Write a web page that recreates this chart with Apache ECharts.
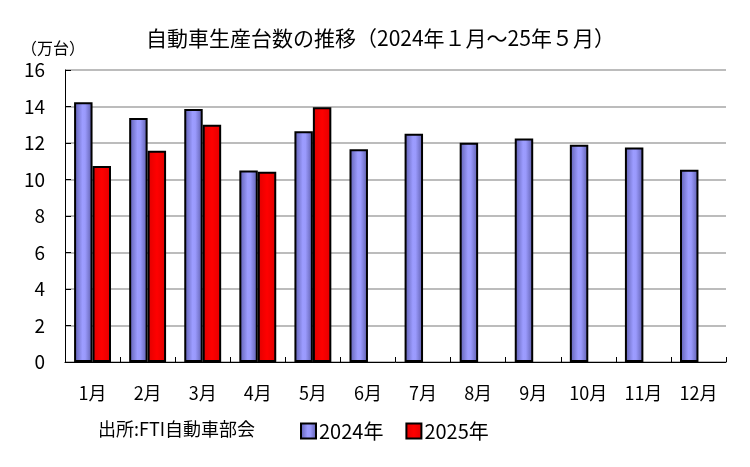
<!DOCTYPE html>
<html><head><meta charset="utf-8">
<script src="https://cdn.jsdelivr.net/npm/echarts@6/dist/echarts.min.js"></script>
<style>html,body{margin:0;padding:0;background:#fff}#c{width:750px;height:467px}</style>
</head><body><div id="c"></div>
<script>
const categories = ['1月','2月','3月','4月','5月','6月','7月','8月','9月','10月','11月','12月'];
const values2024 = [14.23, 13.37, 13.86, 10.49, 12.64, 11.66, 12.51, 12.02, 12.24, 11.91, 11.75, 10.53];
const values2025 = [10.74, 11.58, 13.00, 10.43, 13.96, null, null, null, null, null, null, null];
const seriesNames = ['2024年', '2025年'];
const yTicks = [0, 16, 2];
const titleText = '自動車生産台数の推移（2024年１月～25年５月）';
const unitText = '（万台）';
const sourceText = '出所:FTI自動車部会';

const FONT = '"Noto Sans CJK JP", "Noto Sans", sans-serif';
const chart = echarts.init(document.getElementById('c'), null, {renderer: 'canvas'});
const blueGrad = new echarts.graphic.LinearGradient(0, 0, 1, 0, [
  {offset: 0, color: '#5c5cae'},
  {offset: 0.45, color: '#9c9cff'},
  {offset: 0.6, color: '#9a9afc'},
  {offset: 1, color: '#5a5aa8'}
]);
const redGrad = new echarts.graphic.LinearGradient(0, 0, 1, 0, [
  {offset: 0, color: '#e00000'},
  {offset: 0.5, color: '#ff0000'},
  {offset: 1, color: '#e00000'}
]);
chart.setOption({
  animation: false,
  backgroundColor: '#fff',
  textStyle: {fontFamily: FONT},
  grid: {left: 65, right: 24, top: 70, bottom: 105, containLabel: false},
  graphic: [
    {type: 'text', left: 146, top: 28, style: {text: titleText, font: '21px ' + FONT, fill: '#000'}},
    {type: 'text', left: 21, top: 40, style: {text: unitText, font: '16px ' + FONT, fill: '#000'}},
    {type: 'text', left: 98, top: 420, style: {text: sourceText, font: '18px ' + FONT, fill: '#000'}}
  ],
  legend: {
    left: 295, top: 416, itemWidth: 15, itemHeight: 15, itemGap: 22,
    icon: 'rect',
    textStyle: {fontSize: 20, fontFamily: FONT, color: '#000', padding: [0, 0, 0, -2]},
    data: seriesNames
  },
  xAxis: {
    type: 'category', data: categories,
    axisLine: {lineStyle: {color: '#000', width: 1}},
    axisTick: {show: true, inside: true, length: 5, lineStyle: {color: '#000'}},
    axisLabel: {fontSize: 18, color: '#000', margin: 22, fontFamily: FONT}
  },
  yAxis: {
    type: 'value', min: yTicks[0], max: yTicks[1], interval: yTicks[2],
    axisLine: {show: true, lineStyle: {color: '#000', width: 1}},
    axisTick: {show: true, inside: true, length: 6, lineStyle: {color: '#000'}},
    axisLabel: {fontSize: 19, color: '#000', margin: 20, fontFamily: FONT},
    splitLine: {lineStyle: {color: '#a6a6a6', width: 1.5}}
  },
  series: [
    {name: seriesNames[0], type: 'bar', data: values2024, barGap: '0%', barCategoryGap: '33%',
     itemStyle: {color: blueGrad, borderColor: '#000', borderWidth: 2}},
    {name: seriesNames[1], type: 'bar', data: values2025,
     itemStyle: {color: redGrad, borderColor: '#000', borderWidth: 2}}
  ]
});
</script></body></html>
